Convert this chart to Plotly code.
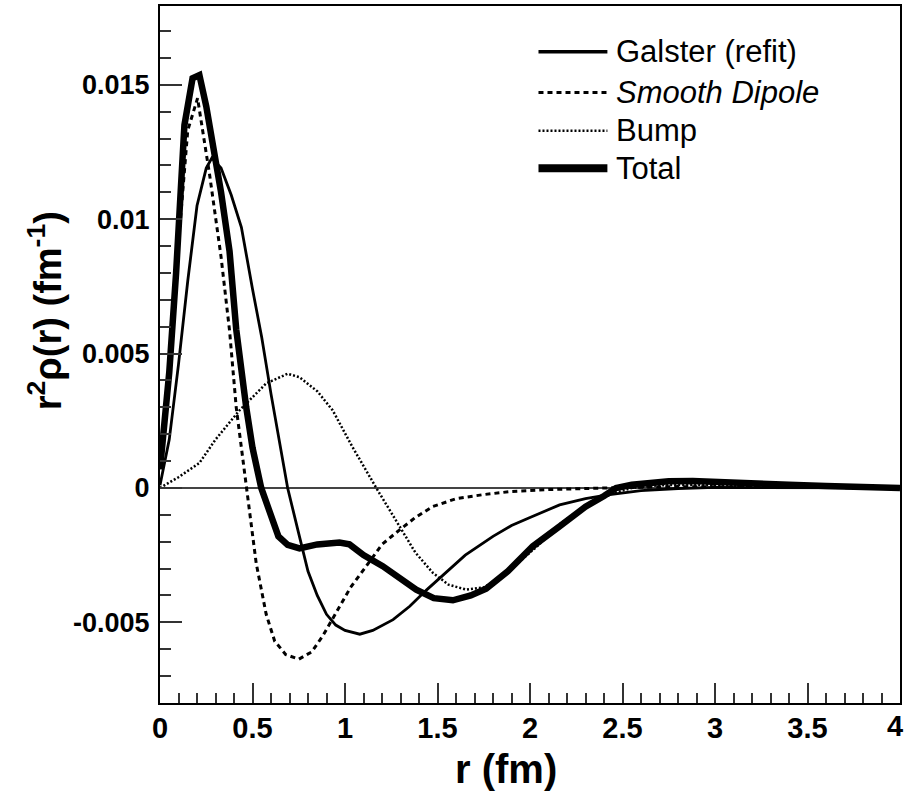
import plotly.graph_objects as go

# ---------------- data ----------------
r_galster = [0, 0.05, 0.1, 0.15, 0.2, 0.25, 0.28, 0.33, 0.385, 0.44, 0.5, 0.55, 0.6, 0.65, 0.69,
             0.75, 0.8, 0.85, 0.9, 0.95, 1.0, 1.08, 1.15, 1.26, 1.35, 1.44, 1.55, 1.65, 1.8, 1.9,
             2.0, 2.16, 2.3, 2.42, 2.6, 2.8, 3.0, 3.5, 4.0]
galster = [0.0001, 0.0018, 0.0046, 0.0077, 0.0105, 0.0119, 0.01227, 0.0119, 0.0109, 0.0097, 0.0074,
           0.0056, 0.0035, 0.0016, 0.0, -0.0017, -0.0031, -0.0040, -0.0047, -0.0051, -0.0053,
           -0.00544, -0.0053, -0.0049, -0.0044, -0.0038, -0.0031, -0.0025, -0.0018, -0.0014,
           -0.0011, -0.00063, -0.0004, -0.00026, -0.0001, -0.00002, 0.00002, 0.00001, 0.0]

r_dipole = [0, 0.05, 0.1, 0.15, 0.203, 0.268, 0.33, 0.376, 0.412, 0.466, 0.52, 0.574, 0.62, 0.68,
            0.75, 0.82, 0.88, 0.952, 1.03, 1.115, 1.2, 1.295, 1.38, 1.475, 1.6, 1.745, 1.9, 2.1,
            2.4, 2.8, 3.2, 4.0]
dipole = [0.0007, 0.0041, 0.0091, 0.0133, 0.0145, 0.01166, 0.0086, 0.00585, 0.0030, 0.0, -0.0028,
          -0.0047, -0.0057, -0.0062, -0.00637, -0.0061, -0.0055, -0.00464, -0.0037, -0.00291,
          -0.0021, -0.00156, -0.0011, -0.00069, -0.0004, -0.00025, -0.00013, -0.00006, 0.0,
          0.00005, 0.00003, 0.0]

r_bump = [0, 0.1, 0.213, 0.3, 0.43, 0.574, 0.69, 0.754, 0.85, 0.933, 1.04, 1.169, 1.295, 1.38,
          1.475, 1.56, 1.655, 1.75, 1.85, 1.95, 2.05, 2.15, 2.25, 2.35, 2.45, 2.55, 2.7, 2.9,
          3.1, 3.4, 4.0]
bump = [0.0, 0.0004, 0.00093, 0.0018, 0.00289, 0.00389, 0.00425, 0.00412, 0.0036, 0.00289,
        0.00153, 0.0, -0.00143, -0.0024, -0.00316, -0.0036, -0.00378, -0.0037, -0.0033, -0.0027,
        -0.0021, -0.0014, -0.0009, -0.0005, -0.0002, 0.0, 0.0001, 0.00012, 0.00008, 0.00003, 0.0]

r_total = [0, 0.05, 0.087, 0.132, 0.176, 0.213, 0.25, 0.285, 0.33, 0.376, 0.412, 0.466, 0.5,
           0.547, 0.6, 0.64, 0.69, 0.754, 0.85, 0.97, 1.024, 1.1, 1.204, 1.3, 1.385, 1.48,
           1.583, 1.68, 1.763, 1.88, 2.015, 2.16, 2.3, 2.4, 2.465, 2.55, 2.65, 2.75, 2.88, 3.0,
           3.2, 3.4, 3.6, 3.8, 4.0]
total = [0.0007, 0.0043, 0.008, 0.0135, 0.01524, 0.01536, 0.0142, 0.0129, 0.011, 0.0088, 0.0059,
         0.003, 0.0015, 0.0, -0.0011, -0.0018, -0.00212, -0.00225, -0.0021, -0.00203, -0.0021,
         -0.0025, -0.00291, -0.0034, -0.00378, -0.0041, -0.00418, -0.0040, -0.00375, -0.0031,
         -0.00217, -0.00143, -0.0007, -0.0003, 0.0, 0.00012, 0.0002, 0.00025, 0.00026, 0.00024,
         0.00018, 0.00012, 0.00007, 0.00003, 0.0]

x_ticks = [0, 0.5, 1, 1.5, 2, 2.5, 3, 3.5, 4]
x_ticktext = ["0", "0.5", "1", "1.5", "2", "2.5", "3", "3.5", "4"]
y_ticks = [-0.005, 0, 0.005, 0.01, 0.015]
y_ticktext = ["-0.005", "0", "0.005", "0.01", "0.015"]

series_names = ["Galster (refit)", "<i>Smooth Dipole</i>", "Bump", "Total"]

# ---------------- figure ----------------
W, H = 906, 792
ML, MR, MT, MB = 160, 5, 4, 89
PW, PH = W - ML - MR, H - MT - MB

def px2x(px):
    return (px - ML) / PW

def py2y(py):
    return (H - MB - py) / PH

FAM = "Liberation Sans, Arial, sans-serif"

styles = [
    dict(color="black", width=2.8, dash="solid"),
    dict(color="black", width=3, dash="5px,4px"),
    dict(color="black", width=2.5, dash="2px,2px"),
    dict(color="black", width=6.5, dash="solid"),
]

fig = go.Figure()
for xs, ys, st, nm in zip([r_galster, r_dipole, r_bump, r_total],
                          [galster, dipole, bump, total], styles, series_names):
    fig.add_trace(go.Scatter(x=xs, y=ys, mode="lines", line=st, name=nm,
                             showlegend=False, cliponaxis=True))

tickfont = dict(family=FAM, color="black", weight="bold")

fig.update_xaxes(
    range=[0, 4], tickmode="array", tickvals=x_ticks, ticktext=x_ticktext,
    ticks="inside", ticklen=20, tickwidth=1.5, tickcolor="#333",
    minor=dict(ticks="inside", ticklen=10, tickwidth=1.5, tickcolor="#333", dtick=0.1, tick0=0,
               showgrid=False),
    showline=True, linecolor="black", linewidth=2, mirror=True,
    showgrid=False, zeroline=False,
    tickfont=dict(size=29, **tickfont), ticklabelstandoff=-2,
)
fig.update_yaxes(
    range=[-0.008, 0.01793], tickmode="array", tickvals=y_ticks, ticktext=y_ticktext,
    ticks="inside", ticklen=22, tickwidth=1.5, tickcolor="#333",
    minor=dict(ticks="inside", ticklen=11, tickwidth=1.5, tickcolor="#333", dtick=0.001,
               tick0=0, showgrid=False),
    showline=True, linecolor="black", linewidth=2, mirror=True,
    showgrid=False, zeroline=True, zerolinecolor="#444", zerolinewidth=1.5,
    tickfont=dict(size=27, **tickfont), ticklabelstandoff=3,
)

# legend drawn by hand (ROOT style: long line samples)
leg_rows = [50, 90.7, 129, 166.7]
leg_widths = [3.5, 3, 2.5, 8]
shapes = []
annotations = []
for row, st, lw, nm in zip(leg_rows, styles, leg_widths, series_names):
    shapes.append(dict(type="line", xref="paper", yref="paper",
                       x0=px2x(539), x1=px2x(608), y0=py2y(row), y1=py2y(row),
                       line=dict(color="black", width=lw, dash=st["dash"])))
    annotations.append(dict(xref="paper", yref="paper", x=px2x(615), y=py2y(row),
                            xanchor="left", yanchor="middle", text=nm, showarrow=False,
                            font=dict(family=FAM, size=31, color="black")))

# last x tick label sits on the figure edge (plotly hides it), place it explicitly
annotations.append(dict(xref="paper", yref="paper", x=px2x(906), y=py2y(726),
                        xanchor="right", yanchor="middle", text=x_ticktext[-1],
                        showarrow=False, font=dict(size=29, **tickfont)))

annotations.append(dict(xref="paper", yref="paper", x=px2x(506), y=py2y(769),
                        xanchor="center", yanchor="middle", text="r (fm)", showarrow=False,
                        font=dict(family=FAM, size=40, color="black", weight="bold")))
annotations.append(dict(xref="paper", yref="paper", x=px2x(45), y=py2y(310),
                        xanchor="center", yanchor="middle", textangle=-90,
                        text="r<sup>2</sup>ρ(r) (fm<sup>-1</sup>)", showarrow=False,
                        font=dict(family=FAM, size=38, color="black", weight="bold")))

fig.update_layout(
    width=W, height=H,
    margin=dict(l=ML, r=MR, t=MT, b=MB, pad=0),
    paper_bgcolor="white", plot_bgcolor="white",
    shapes=shapes, annotations=annotations,
    showlegend=False,
)

fig.write_html("out.html")
